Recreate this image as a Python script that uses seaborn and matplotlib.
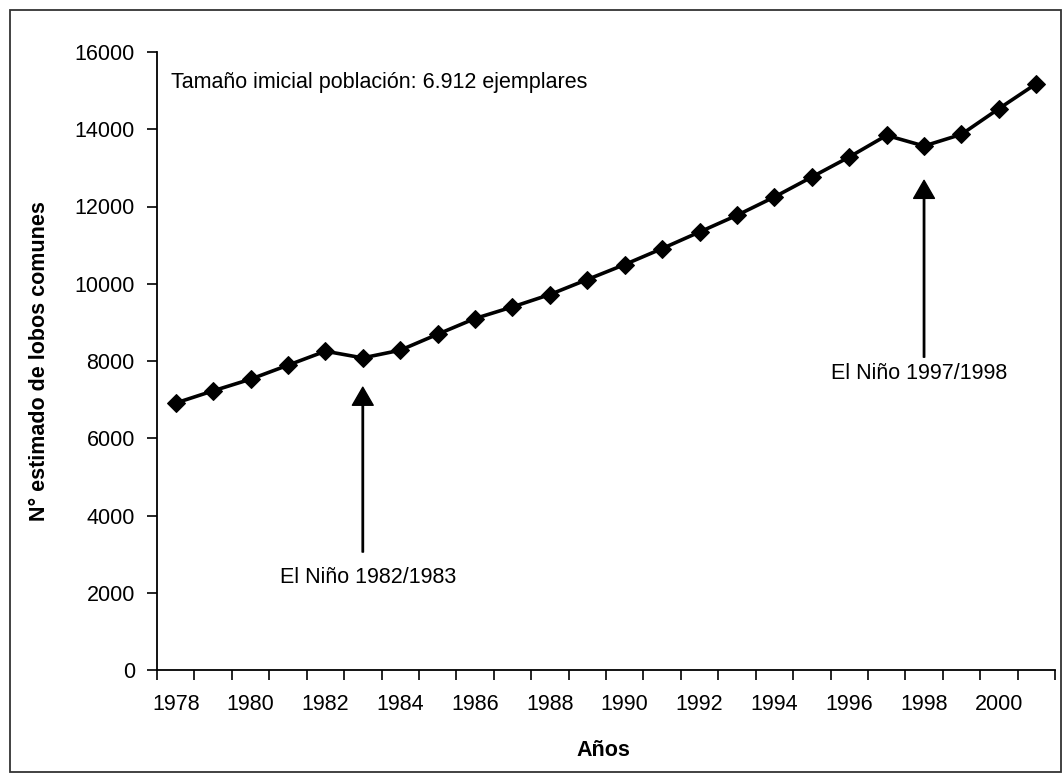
import matplotlib
matplotlib.use("Agg")
import matplotlib.pyplot as plt
from matplotlib.patches import Rectangle
from matplotlib.ticker import FixedLocator
import seaborn as sns
import pandas as pd

years = list(range(1978, 2002))
lobos = [6912, 7227, 7529, 7891, 8254, 8080, 8279, 8693, 9100, 9400,
         9721, 10109, 10497, 10911, 11340, 11772, 12246, 12763, 13281,
         13842, 13566, 13868, 14533, 15180]
tick_years = list(range(1978, 2001, 2))
y_ticks = list(range(0, 16001, 2000))

df = pd.DataFrame({"Años": years, "lobos": lobos})

sns.set_theme(style="white")
plt.rcParams["font.family"] = ["Liberation Sans", "DejaVu Sans"]
plt.rcParams["text.color"] = "black"
plt.rcParams["axes.labelcolor"] = "black"

fig = plt.figure(figsize=(10.62, 7.78), dpi=100)
ax = fig.add_axes([157/1062, 1-670/778, (1055-157)/1062, (670-52)/778])

sns.lineplot(data=df, x="Años", y="lobos", ax=ax, color="black", lw=2.6,
             marker="D", markersize=9.5, markeredgecolor="black",
             markerfacecolor="black")

ax.set_xlim(years[0]-0.5, years[-1]+0.5)
ax.set_ylim(0, 16000)
ax.set_yticks(y_ticks)
ax.set_yticklabels([str(v) for v in y_ticks])
ax.set_xticks(tick_years)
ax.set_xticklabels([str(y) for y in tick_years])
ax.xaxis.set_minor_locator(FixedLocator([y-0.5 for y in years] + [years[-1]+0.5]))

for s in ["top", "right"]:
    ax.spines[s].set_visible(False)
for s in ["left", "bottom"]:
    ax.spines[s].set_color("black")
    ax.spines[s].set_linewidth(1.3)

ax.tick_params(axis="x", which="major", length=0, pad=17, labelsize=15.5, colors="black")
ax.tick_params(axis="x", which="minor", length=7, width=1.2, direction="out",
               bottom=True, color="black")
ax.tick_params(axis="y", which="major", length=7, width=1.2, direction="out",
               left=True, pad=9, labelsize=15.5, colors="black")

ax.set_xlabel("Años", fontsize=15.5, fontweight="bold", color="black")
ax.set_ylabel("N° estimado de lobos comunes", fontsize=15.5, fontweight="bold", color="black")
ax.xaxis.set_label_coords((603-157)/898, (670-740)/618)
ax.yaxis.set_label_coords((50-157)/898, 0.5)

ax.text(1977.87, 15213, "Tamaño imicial población: 6.912 ejemplares",
        fontsize=15.5, ha="left", va="center", color="black")

arrow = dict(width=1.0, headwidth=15, headlength=13, facecolor="black",
             edgecolor="black")
ax.annotate("", xy=(1983, 7322), xytext=(1983, 3053), arrowprops=arrow)
ax.text(1983.13, 2406, "El Niño 1982/1983", fontsize=15.5, ha="center",
        va="center", color="black")
ax.annotate("", xy=(1998, 12678), xytext=(1998, 8098), arrowprops=arrow)
ax.text(1997.87, 7684, "El Niño 1997/1998", fontsize=15.5, ha="center",
        va="center", color="black")

fig.patches.append(Rectangle((10/1062, 1-772/778), 1051/1062, 762/778,
                             transform=fig.transFigure, fill=False,
                             edgecolor="#333333", lw=1.3))

fig.savefig("out.png", dpi=100)
